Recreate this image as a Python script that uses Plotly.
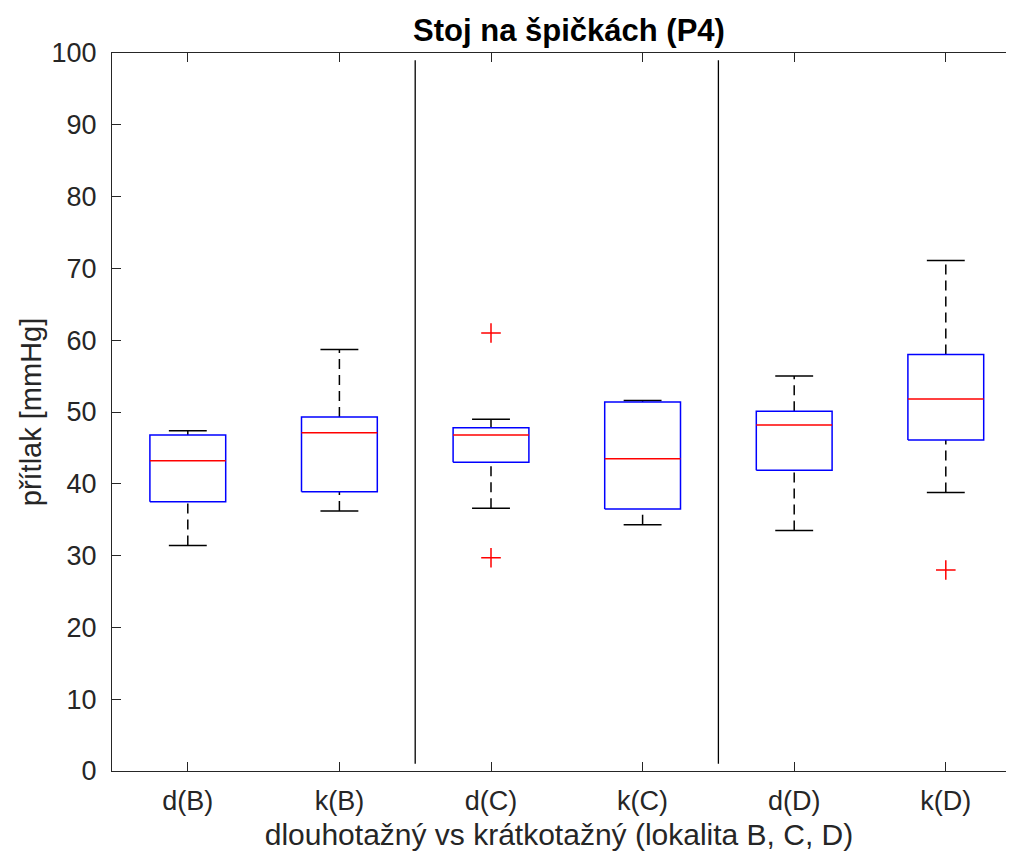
import plotly.graph_objects as go

categories = ["d(B)", "k(B)", "d(C)", "k(C)", "d(D)", "k(D)"]
lower_whisker = [31.4, 36.2, 36.6, 34.3, 33.5, 38.8]
q1 = [37.5, 38.9, 43.0, 36.5, 41.9, 46.1]
median = [43.2, 47.1, 46.8, 43.5, 48.2, 51.8]
q3 = [46.8, 49.3, 47.8, 51.4, 50.1, 58.0]
upper_whisker = [47.4, 58.7, 49.0, 51.6, 55.0, 71.1]
outlier_cats = ["d(C)", "d(C)", "k(D)"]
outlier_vals = [61.0, 29.7, 28.0]
separators = [2.5, 4.5]
y_ticks = list(range(0, 101, 10))

BOX_HALF = 0.25
CAP_HALF = 0.125

pos = {c: i + 1 for i, c in enumerate(categories)}

bx, by, mx, my, wx, wy, cx, cy = [], [], [], [], [], [], [], []
for c, lo, a, m, b, hi in zip(categories, lower_whisker, q1, median, q3, upper_whisker):
    x = pos[c]
    bx += [x - BOX_HALF, x + BOX_HALF, x + BOX_HALF, x - BOX_HALF, x - BOX_HALF, None]
    by += [a, a, b, b, a, None]
    mx += [x - BOX_HALF, x + BOX_HALF, None]
    my += [m, m, None]
    wx += [x, x, None, x, x, None]
    wy += [b, hi, None, lo, a, None]
    cx += [x - CAP_HALF, x + CAP_HALF, None, x - CAP_HALF, x + CAP_HALF, None]
    cy += [hi, hi, None, lo, lo, None]

fig = go.Figure()
sx, sy = [], []
for s in separators:
    sx += [s, s, None]
    sy += [1, 99, None]
fig.add_trace(go.Scatter(x=sx, y=sy, mode="lines", line=dict(color="black", width=1.3),
                         hoverinfo="skip", showlegend=False))
fig.add_trace(go.Scatter(x=wx, y=wy, mode="lines",
                         line=dict(color="black", width=1.5, dash="10px,6px"),
                         showlegend=False))
fig.add_trace(go.Scatter(x=cx, y=cy, mode="lines", line=dict(color="black", width=1.5),
                         showlegend=False))
fig.add_trace(go.Scatter(x=bx, y=by, mode="lines", line=dict(color="#0000ff", width=1.5),
                         showlegend=False))
fig.add_trace(go.Scatter(x=mx, y=my, mode="lines", line=dict(color="#ff0000", width=1.5),
                         showlegend=False))
fig.add_trace(go.Scatter(x=[pos[c] for c in outlier_cats], y=outlier_vals, mode="markers",
                         marker=dict(symbol="cross-thin", size=14,
                                     line=dict(color="#ff0000", width=1.5)),
                         showlegend=False))

FONT = "Liberation Sans, Arial, sans-serif"
W, H = 998, 843
PX_PER_UNIT = 151.6
L, T, B = 104, 45, 80
PLOT_W, PLOT_H = W - L, H - T - B
x_range = [0.5, 0.5 + PLOT_W / PX_PER_UNIT]
tick_pos = list(range(1, len(categories) + 1))
fig.update_layout(
    width=W, height=H,
    margin=dict(l=L, r=0, t=T, b=B, autoexpand=False),
    paper_bgcolor="white", plot_bgcolor="white",
    font=dict(family=FONT, color="#262626", size=27),
    title=dict(text="<b>Stoj na špičkách (P4)</b>", x=561 / W, xref="container",
               xanchor="center", y=1 - 22 / H, yref="container", yanchor="middle",
               font=dict(family=FONT, size=31, color="black")),
    xaxis=dict(range=x_range, tickvals=tick_pos, ticktext=categories, mirror="ticks",
               ticks="inside", ticklen=9, tickwidth=1.2, tickcolor="#262626",
               showline=True, linecolor="#262626", linewidth=1.3,
               showgrid=False, zeroline=False, automargin=False,
               tickfont=dict(size=27), ticklabelstandoff=5,
               title=dict(text="dlouhotažný vs krátkotažný (lokalita B, C, D)",
                          font=dict(size=30), standoff=21)),
    yaxis=dict(range=[0, 100], tickvals=y_ticks, mirror=False,
               ticks="inside", ticklen=9, tickwidth=1.2, tickcolor="#262626",
               showline=True, linecolor="#262626", linewidth=1.3,
               showgrid=False, zeroline=False, automargin=False,
               tickfont=dict(size=27), ticklabelstandoff=9,
               title=dict(text="přítlak [mmHg]", font=dict(size=29), standoff=1)),
    # the axes box continues past the right edge of the picture: mask the right frame edge
    shapes=[dict(type="rect", xref="paper", yref="paper",
                 x0=1 - 3 / PLOT_W, x1=1 + 10 / PLOT_W,
                 y0=2 / PLOT_H, y1=1 - 2 / PLOT_H,
                 fillcolor="white", line=dict(width=0), layer="above")],
)

fig.write_html("out.html")
